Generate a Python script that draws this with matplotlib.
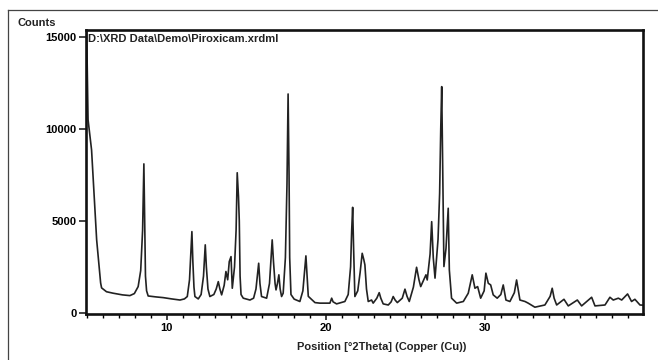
import numpy as np
import matplotlib
matplotlib.use("Agg")
import matplotlib.pyplot as plt
from matplotlib.ticker import MultipleLocator
from matplotlib.lines import Line2D

# XRD pattern of piroxicam, vertices
two_theta = [4.95, 5.04, 5.26, 5.58, 5.83, 5.89, 6.2, 6.62, 7.2, 7.67, 7.95, 8.19, 8.35, 8.47,
             8.55, 8.6, 8.65, 8.72, 8.82, 9.3, 9.77, 10.3, 10.82, 11.1, 11.28, 11.42, 11.5,
             11.57, 11.63, 11.7, 11.76, 11.97, 12.15, 12.3, 12.41, 12.48, 12.58, 12.70, 12.95,
             13.1, 13.23, 13.33, 13.44, 13.6, 13.71, 13.82, 13.92, 14.03, 14.11, 14.25, 14.35,
             14.42, 14.5, 14.55, 14.6, 14.66, 14.8, 15.22, 15.45, 15.6, 15.77, 15.85, 15.95,
             16.27, 16.45, 16.55, 16.62, 16.7, 16.8, 16.86, 16.95, 17.04, 17.12, 17.21, 17.31,
             17.45, 17.55, 17.62, 17.68, 17.72, 17.8, 18.0, 18.36, 18.55, 18.67, 18.74, 18.8,
             18.89, 19.31, 19.62, 20.25, 20.36, 20.45, 20.67, 21.19, 21.4, 21.55, 21.62, 21.68,
             21.74, 21.82, 22.0, 22.15, 22.28, 22.38, 22.45, 22.55, 22.66, 22.87, 22.97, 23.2,
             23.35, 23.45, 23.6, 23.92, 24.1, 24.23, 24.35, 24.49, 24.8, 24.97, 25.1, 25.24,
             25.5, 25.70, 25.85, 25.96, 26.15, 26.29, 26.37, 26.55, 26.65, 26.75, 26.86, 27.05,
             27.15, 27.22, 27.28, 27.34, 27.42, 27.55, 27.69, 27.76, 27.9, 28.22, 28.64, 28.95,
             29.2, 29.37, 29.54, 29.73, 29.95, 30.06, 30.21, 30.36, 30.52, 30.77, 31.0, 31.15,
             31.32, 31.57, 31.85, 31.99, 32.2, 32.52, 32.72, 33.14, 33.77, 34.1, 34.23, 34.35,
             34.51, 34.97, 35.24, 35.81, 36.08, 36.71, 36.92, 37.55, 37.86, 38.07, 38.39, 38.6,
             38.97, 39.22, 39.43, 39.75, 39.95]
counts = [15400, 10500, 8860, 3970, 1630, 1360, 1150, 1070, 980, 940, 1050, 1430, 2300, 4500,
          8100, 5000, 2000, 1200, 920, 870, 830, 760, 700, 760, 890, 1800, 3200,
          4420, 2800, 1400, 890, 760, 1000, 2000, 3700, 2500, 1300, 890, 1000,
          1300, 1700, 1300, 980, 1500, 2250, 1800, 2790, 3060, 1340, 2500, 4500,
          7620, 6320, 5000, 2000, 1000, 800, 700, 800, 1300, 2700, 1600, 890,
          800, 1600, 3000, 3970, 2800, 1600, 1250, 1600, 2070, 1300, 890, 1070,
          3000, 7000, 11900, 7500, 3000, 1000, 750, 620, 1200, 2400, 3100, 2200,
          900, 560, 530, 530, 800, 600, 490, 620, 1000, 2500, 4500, 5740,
          3500, 890, 1200, 2200, 3240, 2900, 2610, 1300, 620, 700, 530, 800,
          1100, 800, 490, 430, 600, 890, 700, 560, 800, 1290, 900, 620,
          1400, 2480, 1800, 1430, 1800, 2070, 1790, 3200, 4960, 3000, 1890, 4000,
          6500, 10000, 12300, 8000, 2520, 3500, 5690, 2340, 800, 530, 620, 1070,
          2070, 1340, 1430, 800, 1200, 2160, 1610, 1520, 980, 800, 1000, 1520,
          700, 620, 1100, 1790, 700, 620, 530, 310, 430, 900, 1340, 800,
          430, 740, 380, 700, 380, 850, 380, 430, 850, 700, 800, 700,
          1030, 620, 740, 430, 420]

y_ticks = [0, 5000, 10000, 15000]
x_ticks = [10, 20, 30]

plt.rcParams['font.family'] = ['Liberation Sans', 'DejaVu Sans']
plt.rcParams['font.weight'] = 'bold'

fig = plt.figure(figsize=(6.58, 3.60), dpi=100)
ax = fig.add_axes([86/658, 1-314/360, (643-86)/658, (314-30)/360])

ax.plot(two_theta, counts, c='#222222', lw=1.2)

ax.set_xlim(4.91, 39.94)
ax.set_ylim(-60, 15380)
ax.set_xticks(x_ticks)
ax.set_yticks(y_ticks)
ax.xaxis.set_minor_locator(MultipleLocator(1))
ax.tick_params(axis='both', direction='out', labelsize=8, width=1.2, color='#222222', pad=2)
ax.tick_params(axis='x', which='major', length=4.5)
ax.tick_params(axis='x', which='minor', length=3, width=1.0)
ax.tick_params(axis='y', length=5)
for s in ax.spines.values():
    s.set_linewidth(1.9)
    s.set_color('#111111')

ax.text(0.004, 0.985, r'D:\XRD Data\Demo\Piroxicam.xrdml', transform=ax.transAxes,
        fontsize=8, va='top', ha='left', color='#222222')
ax.set_xlabel('Position [°2Theta] (Copper (Cu))', fontsize=8, fontweight='bold', color='#222222')
ax.xaxis.set_label_coords(0.53, -0.1)
fig.text(17/658, 1-23/360, 'Counts', fontsize=8, va='center', ha='left', color='#222222')

# thin frame around the whole picture
fig.add_artist(Line2D([8/658, 1.0], [1-10/360, 1-10/360], transform=fig.transFigure,
                      color='#444444', lw=0.9))
fig.add_artist(Line2D([8/658, 8/658], [0, 1-10/360], transform=fig.transFigure,
                      color='#444444', lw=0.9))

fig.savefig('out.png', dpi=100)
